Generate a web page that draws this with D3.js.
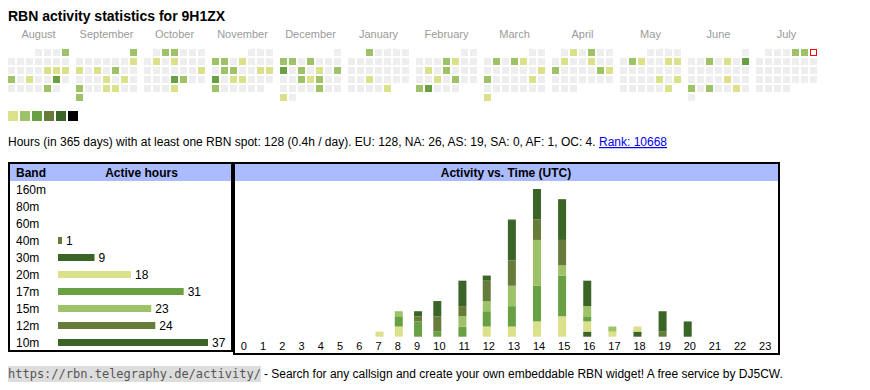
<!DOCTYPE html>
<html>
<head>
<meta charset="utf-8">
<script src="https://cdn.jsdelivr.net/npm/d3@7/dist/d3.min.js"></script>
<style>
body { margin: 0; background: #fff; }
svg text { font-family: "Liberation Sans", Arial, sans-serif; }
</style>
</head>
<body>
<div id="widget"></div>
<script>
const callsign = "9H1ZX";

// days with activity and their level (1 = light ... 5 = dark)
const activeDates = [
    "2024-08-04","2024-08-16","2024-08-17","2024-08-18","2024-08-19","2024-08-21","2024-08-24","2024-08-30",
    "2024-09-01","2024-09-08","2024-09-09","2024-09-11","2024-09-13","2024-09-19","2024-09-21","2024-09-23","2024-09-26","2024-09-27","2024-09-30",
    "2024-10-02","2024-10-03","2024-10-08","2024-10-10","2024-10-20","2024-10-24","2024-10-25","2024-10-31",
    "2024-11-04","2024-11-05","2024-11-07","2024-11-12","2024-11-13","2024-11-16","2024-11-17","2024-11-18","2024-11-20","2024-11-21","2024-11-25",
    "2024-12-02","2024-12-03","2024-12-05","2024-12-09","2024-12-11","2024-12-13","2024-12-15","2024-12-18","2024-12-19","2024-12-20","2024-12-27","2024-12-30",
    "2025-01-01","2025-01-22","2025-01-31",
    "2025-02-06","2025-02-07","2025-02-11","2025-02-13","2025-02-19","2025-02-21","2025-02-24","2025-02-25",
    "2025-03-04","2025-03-06","2025-03-07","2025-03-16","2025-03-17","2025-03-22","2025-03-31",
    "2025-04-02","2025-04-04","2025-04-08","2025-04-11","2025-04-14","2025-04-19","2025-04-20",
    "2025-05-06","2025-05-07","2025-05-10","2025-05-11","2025-05-23","2025-05-25","2025-05-31",
    "2025-06-04","2025-06-06","2025-06-08","2025-06-20","2025-06-23","2025-06-25","2025-06-28",
    "2025-07-04","2025-07-05"
];
const activeLevels = [
    2,1,1,1,2,1,3,2,
    2,1,1,1,2,1,1,2,1,1,2,
    2,2,1,1,1,3,2,1,
    2,2,1,2,2,1,1,3,1,1,2,
    2,2,2,3,2,1,2,2,1,2,2,1,
    2,1,1,
    2,1,1,2,1,2,2,3,
    2,2,1,1,2,1,1,
    1,2,1,1,2,2,1,
    2,1,1,1,1,1,1,
    2,1,3,1,2,2,1,
    2,2
];
const calendarStart = "2024-08-01";
const calendarEnd = "2025-08-01";
const today = "2025-07-06";
const levelColors = ["#eeeeee", "#dbe08b", "#9dc268", "#69a044", "#677c38", "#3b6527", "#000000"];
const legendLevels = [1, 2, 3, 4, 5, 6];

// band table
const bands = ["160m", "80m", "60m", "40m", "30m", "20m", "17m", "15m", "12m", "10m"];
const bandHours = [0, 0, 0, 1, 9, 18, 31, 23, 24, 37];
const bandColors = ["#dbe08b", "#9dc268", "#69a044", "#677c38", "#3b6527", "#dbe08b", "#69a044", "#9dc268", "#677c38", "#3b6527"];

// activity per UTC hour, one array per band
const hourLabels = ["0","1","2","3","4","5","6","7","8","9","10","11","12","13","14","15","16","17","18","19","20","21","22","23"];
const hours40m = [0,0,0,0,0,0,0,0,0,0,0,0,0,0,0,0,0,0,0,1,0,0,0,0];
const hours30m = [0,0,0,0,0,0,0,0,0,0,0,0,0,0,0,0,1,0,1,4,3,0,0,0];
const hours20m = [0,0,0,0,0,0,0,1,2,0,0,0,2,2,3,4,2,1,1,0,0,0,0,0];
const hours17m = [0,0,0,0,0,0,0,0,2,3,1,2,3,4,7,8,1,0,0,0,0,0,0,0];
const hours15m = [0,0,0,0,0,0,0,0,1,0,0,2,2,4,9,2,2,1,0,0,0,0,0,0];
const hours12m = [0,0,0,0,0,0,0,0,0,1,3,2,4,5,4,5,0,0,0,0,0,0,0,0];
const hours10m = [0,0,0,0,0,0,0,0,0,1,3,5,1,8,6,8,5,0,0,0,0,0,0,0];

const statsText = "Hours (in 365 days) with at least one RBN spot: 128 (0.4h / day). EU: 128, NA: 26, AS: 19, SA: 0, AF: 1, OC: 4. ";
const rankText = "Rank: 10668";
const footerUrl = "https://rbn.telegraphy.de/activity/";
const footerText = "- Search for any callsign and create your own embeddable RBN widget! A free service by DJ5CW.";

let width = 870, height = 390;

let svg = d3.select("#widget")
    .append("svg")
    .attr("width", width)
    .attr("height", height);

svg.append("text")
    .attr("x", 8)
    .attr("y", 21)
    .style("font-size", "14px")
    .style("font-weight", "bold")
    .text("RBN activity statistics for " + callsign);

// ---- calendar ----
let parse = d3.utcParse("%Y-%m-%d");
let levelByDay = new Map(activeDates.map(function(d, i) { return [d, activeLevels[i]]; }));
let months = d3.utcMonths(parse(calendarStart), parse(calendarEnd));
let days = d3.utcDays(parse(calendarStart), parse(calendarEnd));
let fmt = d3.utcFormat("%Y-%m-%d");

let monthX = d3.scaleBand()
    .domain(months.map(function(d) { return fmt(d); }))
    .range([8, 8 + 68 * months.length])
    .paddingInner(0);

let cal = svg.append("g");

cal.selectAll("text.month")
    .data(months)
    .enter()
    .append("text")
    .attr("class", "month")
    .attr("x", function(d) { return monthX(fmt(d)) + 30.5; })
    .attr("y", 38)
    .style("font-size", "11px")
    .style("fill", "#9a9a9a")
    .style("text-anchor", "middle")
    .text(d3.utcFormat("%B"));

function cellPos(d) {
    let first = d3.utcMonth.floor(d);
    let firstWd = (first.getUTCDay() + 6) % 7;
    let wd = (d.getUTCDay() + 6) % 7;
    let row = Math.floor((d.getUTCDate() - 1 + firstWd) / 7);
    return [monthX(fmt(first)) + wd * 9, 49 + row * 9];
}

cal.selectAll("rect.day")
    .data(days)
    .enter()
    .append("rect")
    .attr("class", "day")
    .attr("x", function(d) { return cellPos(d)[0] + (fmt(d) === today ? 0.5 : 0); })
    .attr("y", function(d) { return cellPos(d)[1] + (fmt(d) === today ? 0.5 : 0); })
    .attr("width", function(d) { return fmt(d) === today ? 6 : 7; })
    .attr("height", function(d) { return fmt(d) === today ? 6 : 7; })
    .attr("fill", function(d) {
        if (fmt(d) === today) return "#fff";
        return levelColors[levelByDay.get(fmt(d)) || 0];
    })
    .attr("stroke", function(d) { return fmt(d) === today ? "#ff0000" : null; })
    .attr("stroke-width", 1);

cal.selectAll("rect.legend")
    .data(legendLevels)
    .enter()
    .append("rect")
    .attr("class", "legend")
    .attr("x", function(d, i) { return 8 + i * 12; })
    .attr("y", 111)
    .attr("width", 10)
    .attr("height", 10)
    .attr("fill", function(d) { return levelColors[d]; });

let stats = svg.append("text")
    .attr("x", 8)
    .attr("y", 146)
    .style("font-size", "12px");
stats.append("tspan").text(statsText);
stats.append("tspan")
    .style("fill", "#0000ee")
    .style("text-decoration", "underline")
    .text(rankText);

// ---- band table ----
let tbl = svg.append("g");
tbl.append("rect")
    .attr("x", 10).attr("y", 164).attr("width", 221).attr("height", 17)
    .attr("fill", "#aabbff");
tbl.append("rect")
    .attr("x", 9).attr("y", 163).attr("width", 223).attr("height", 188)
    .attr("fill", "none").attr("stroke", "#000").attr("stroke-width", 2);
tbl.append("text")
    .attr("x", 16).attr("y", 177)
    .style("font-size", "12px").style("font-weight", "bold")
    .text("Band");
tbl.append("text")
    .attr("x", 141.5).attr("y", 177)
    .style("font-size", "12px").style("font-weight", "bold")
    .style("text-anchor", "middle")
    .text("Active hours");

let rowY = d3.scaleBand()
    .domain(bands)
    .range([181, 351]);

let hourBarX = d3.scaleLinear()
    .domain([0, d3.max(bandHours)])
    .range([0, 150]);

tbl.selectAll("text.band")
    .data(bands)
    .enter()
    .append("text")
    .attr("class", "band")
    .attr("x", 16)
    .attr("y", function(d) { return rowY(d) + rowY.bandwidth() / 2 + 4; })
    .style("font-size", "12px")
    .text(function(d) { return d; });

let rows = bands.map(function(b, i) { return {band: b, hours: bandHours[i], color: bandColors[i]}; })
    .filter(function(d) { return d.hours > 0; });

tbl.selectAll("rect.bar")
    .data(rows)
    .enter()
    .append("rect")
    .attr("class", "bar")
    .attr("x", 58)
    .attr("y", function(d) { return rowY(d.band) + rowY.bandwidth() / 2 - 3.5; })
    .attr("width", function(d) { return hourBarX(d.hours); })
    .attr("height", 7)
    .attr("fill", function(d) { return d.color; });

tbl.selectAll("text.count")
    .data(rows)
    .enter()
    .append("text")
    .attr("class", "count")
    .attr("x", function(d) { return 58 + hourBarX(d.hours) + 4; })
    .attr("y", function(d) { return rowY(d.band) + rowY.bandwidth() / 2 + 4; })
    .style("font-size", "12px")
    .text(function(d) { return d.hours; });

// ---- activity vs. time ----
let chart = svg.append("g");
chart.append("rect")
    .attr("x", 235).attr("y", 164).attr("width", 543).attr("height", 17)
    .attr("fill", "#aabbff");
chart.append("rect")
    .attr("x", 234).attr("y", 163).attr("width", 545).attr("height", 191)
    .attr("fill", "none").attr("stroke", "#000").attr("stroke-width", 2);
chart.append("text")
    .attr("x", 506).attr("y", 177)
    .style("font-size", "12px").style("font-weight", "bold")
    .style("text-anchor", "middle")
    .text("Activity vs. Time (UTC)");

// hour labels first, so the column widths can follow the label widths (like a table)
let labels = chart.selectAll("text.hour")
    .data(hourLabels)
    .enter()
    .append("text")
    .attr("class", "hour")
    .attr("y", 349.5)
    .style("font-size", "11px")
    .text(function(d) { return d; });

let pad = 7, colLeft = 234, colRight = 777.5;
let colW = [];
labels.each(function() { colW.push(this.getComputedTextLength() + 2 * pad); });
let k = (colRight - colLeft) / d3.sum(colW);
let starts = colW.map(function(w, i) { return colLeft + k * d3.sum(colW.slice(0, i)) + k * pad; });

let hourX = d3.scaleOrdinal()
    .domain(hourLabels)
    .range(starts);

labels.attr("x", function(d) { return hourX(d); });

let stackKeys = ["40m", "30m", "20m", "17m", "15m", "12m", "10m"];
let stackSeries = [hours40m, hours30m, hours20m, hours17m, hours15m, hours12m, hours10m];
let table = hourLabels.map(function(h, i) {
    let row = {hour: h};
    stackKeys.forEach(function(key, j) { row[key] = stackSeries[j][i]; });
    return row;
});

let stacked = d3.stack().keys(stackKeys)(table);

let y = d3.scaleLinear()
    .domain([0, d3.max(stacked[stacked.length - 1], function(d) { return d[1]; })])
    .range([336.7, 189]);

let bandColor = d3.scaleOrdinal()
    .domain(bands)
    .range(bandColors);

chart.selectAll("g.layer")
    .data(stacked)
    .enter()
    .append("g")
    .attr("class", "layer")
    .attr("fill", function(d) { return bandColor(d.key); })
    .selectAll("rect")
    .data(function(d) { return d.filter(function(p) { return p[1] > p[0]; }); })
    .enter()
    .append("rect")
    .attr("x", function(d) { return hourX(d.data.hour); })
    .attr("y", function(d) { return y(d[1]); })
    .attr("width", 8)
    .attr("height", function(d) { return y(d[0]) - y(d[1]); });

// ---- footer ----
let foot = svg.append("g");
let url = foot.append("text")
    .attr("x", 8)
    .attr("y", 378)
    .style("font-family", "'DejaVu Sans Mono', monospace")
    .style("font-size", "12px")
    .style("fill", "#555")
    .text(footerUrl);
let urlW = url.node().getComputedTextLength();
foot.insert("rect", "text")
    .attr("x", 8).attr("y", 366).attr("width", urlW).attr("height", 16)
    .attr("fill", "#dddddd");
foot.append("text")
    .attr("x", 8 + urlW + 3)
    .attr("y", 378)
    .style("font-size", "12px")
    .text(footerText);
</script>
</body>
</html>
